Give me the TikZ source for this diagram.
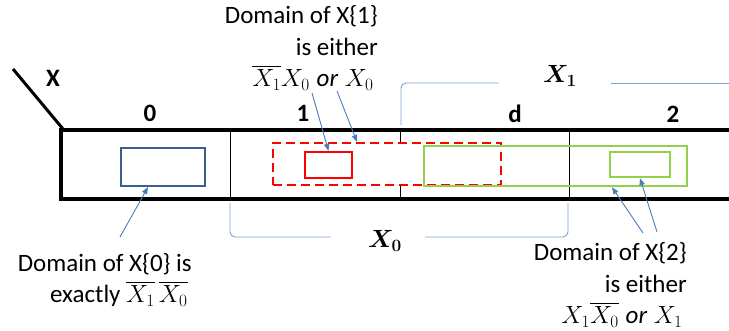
\documentclass[tikz,border=0pt]{standalone}
\usepackage{amsmath,bm}
\usepackage{fontspec}
\setmainfont{Carlito}
\usetikzlibrary{arrows.meta}
\definecolor{rectblue}{HTML}{3A5F91}
\definecolor{arrblue}{HTML}{4A7EBB}
\definecolor{brblue}{HTML}{7BA0D4}
\definecolor{lgreen}{HTML}{92D050}
\tikzset{
  lbl/.style={font=\fontsize{25}{31.5}\selectfont\bfseries, inner sep=0pt},
  txt/.style={font=\fontsize{25}{31.5}\selectfont, align=right, inner sep=0pt, anchor=east},
  box/.style={draw, inner sep=0pt, minimum width=#1},
  ptr/.style={draw=arrblue, line width=0.9pt, -{Triangle[length=7pt,width=5.5pt]}, arrblue},
  brk/.style={draw=brblue, line width=0.9pt, rounded corners=5pt},
}
\begin{document}
\begin{tikzpicture}[x=1pt,y=-1pt]
\useasboundingbox (0,0) rectangle (729,330);
% dividers
\draw[line width=0.9pt] (230,130) -- (230,199);
\draw[line width=0.9pt] (400,130) -- (400,199);
\draw[line width=0.9pt] (569,130) -- (569,199);
% main bar
\draw[line width=3.5pt] (729,130) -- (61,130) -- (61,199) -- (729,199);
\draw[line width=3pt] (13,69) -- (63,129);
% labels
\node[lbl] (lx) at (53,78) {X};
\node[lbl] (l0) at (150,113) {0};
\node[lbl] (l1) at (303,113) {1};
\node[lbl] (ld) at (515,114) {d};
\node[lbl] (l2) at (673,114) {2};
% boxes
\node[box=228pt, minimum height=42pt, draw=red, fill=white, line width=2.2pt, dash pattern=on 9pt off 5pt] (dash) at (387,164) {};
\node[box=84pt, minimum height=38pt, draw=rectblue, line width=2pt] (blue) at (163,167) {};
\node[box=263pt, minimum height=40pt, draw=lgreen, line width=2.4pt] (gbig) at (555.5,166) {};
\node[box=60pt, minimum height=25pt, draw=lgreen, line width=2.4pt] (gsmall) at (640,164.5) {};
\node[box=47pt, minimum height=26pt, draw=red, line width=2.4pt] (rsmall) at (328.5,165) {};
% brackets
\node[font=\fontsize{25}{30}\selectfont, inner sep=0pt] (x1lbl) at (560,76) {$\bm{X_1}$};
\node[font=\fontsize{25}{30}\selectfont, inner sep=0pt] (x0lbl) at (385,241) {$\bm{X_0}$};
\draw[brk] (401,125) -- (401,83) -- (499,83);
\draw[brk] (611,83) -- (729,83);
\draw[brk] (230,203) -- (230,237) -- (331,237);
\draw[brk] (425,237) -- (568,237) -- (568,203);
% texts
\node[txt] (t1) at (378,48) {Domain of X\{1\}\\ is either\\ $\overline{X_1}X_0\;\mathit{or}\;X_0$\,};
\node[txt] (t0) at (192,280) {Domain of X\{0\} is\\ exactly $\overline{X_1}\,\overline{X_0}$\,};
\node[txt] (t2) at (687,285) {Domain of X\{2\}\\ is either\\ $X_1\overline{X_0}\;\mathit{or}\;X_1$\,};
% pointer starts
\coordinate (s1a) at (312,93);
\coordinate (s1b) at (337,91);
\coordinate (s0) at (120,237);
\coordinate (s2a) at (643,233);
\coordinate (s2b) at (657,232);
\draw[ptr] (s1a) -- (rsmall.north);
\draw[ptr] (s1b) -- ([xshift=-30pt]dash.north);
\draw[ptr] (s0) -- ([xshift=-15pt]blue.south);
\draw[ptr] (s2a) -- ([xshift=56.5pt]gbig.south);
\draw[ptr] (s2b) -- (gsmall.south);
\end{tikzpicture}
\end{document}
